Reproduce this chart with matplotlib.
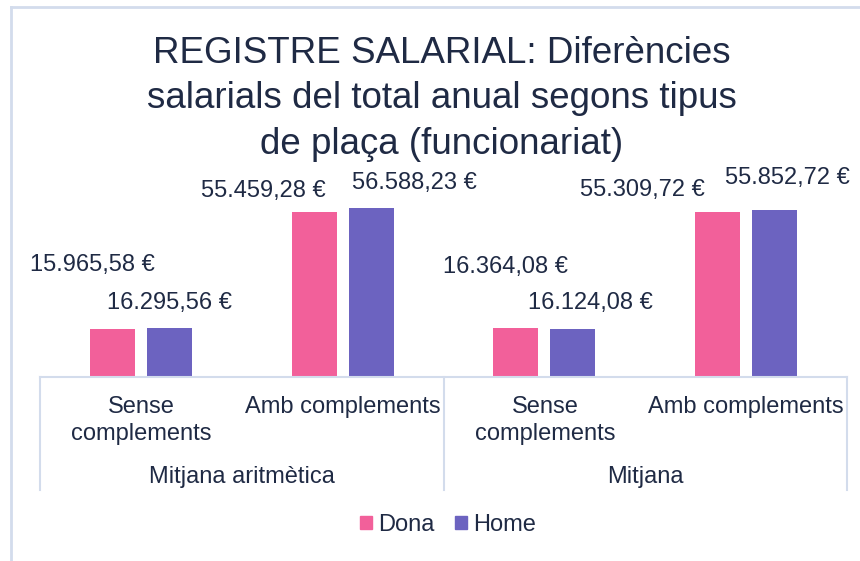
import matplotlib.pyplot as plt
from matplotlib.lines import Line2D
from matplotlib.patches import Patch

plt.rcParams['font.family'] = ['Liberation Sans', 'DejaVu Sans']

groups = ["Mitjana aritmètica", "Mitjana"]
types = ["Sense\ncomplements", "Amb complements"]
dona = [15965.58, 55459.28, 16364.08, 55309.72]
home = [16295.56, 56588.23, 16124.08, 55852.72]

pink = "#F2609A"
purple = "#6C63C0"
text_col = "#1F2A44"
line_col = "#D3DCEC"


def fmt(v):
    s = f"{v:,.2f}".replace(",", "X").replace(".", ",").replace("X", ".")
    return s + " €"


# label offsets (pixels) as placed in the original
dona_off = [(-20, 64), (-51, 21), (-10, 61), (-75, 22)]
home_off = [(0, 25), (43, 25), (18, 26), (13, 32)]

fig = plt.figure(figsize=(8.6, 5.61), dpi=100)
W, H = 860, 561
ax = fig.add_axes([40 / W, 184 / H, 807 / W, 179 / H])

x = range(len(dona))
bw = 45 / 201.75
gap = 12 / 201.75
xd = [i - (bw + gap) / 2 for i in x]
xh = [i + (bw + gap) / 2 for i in x]
ax.bar(xd, dona, width=bw, color=pink)
ax.bar(xh, home, width=bw, color=purple)

for xi, v, off in zip(xd, dona, dona_off):
    ax.annotate(fmt(v), (xi, v), xytext=off, textcoords="offset pixels",
                ha="center", va="center", fontsize=17, color=text_col,
                annotation_clip=False)
for xi, v, off in zip(xh, home, home_off):
    ax.annotate(fmt(v), (xi, v), xytext=off, textcoords="offset pixels",
                ha="center", va="center", fontsize=17, color=text_col,
                annotation_clip=False)

ax.set_xlim(-0.5, len(dona) - 0.5)
ax.set_ylim(0, 60000)
ax.axis("off")

# category axis line
fig.add_artist(Line2D([40 / W, 847 / W], [184 / H, 184 / H], color=line_col, lw=1.5))
for xp in [40, 444, 847]:
    fig.add_artist(Line2D([xp / W, xp / W], [184 / H, 71 / H], color=line_col, lw=1.5))

cat_centers = [141, 343, 545, 746]
for i, cx in enumerate(cat_centers):
    fig.text(cx / W, 1 - 396 / H, types[i % 2], ha="center", va="top",
             fontsize=17, color=text_col, linespacing=1.3)
for g, cx in zip(groups, [242, 645]):
    fig.text(cx / W, 1 - 477 / H, g, ha="center", va="center",
             fontsize=17, color=text_col)

fig.text(442 / W, 1 - 99 / H,
         "REGISTRE SALARIAL: Diferències\nsalarials del total anual segons tipus\nde plaça (funcionariat)",
         ha="center", va="center", fontsize=26.5, color=text_col, linespacing=1.38)

handles = [Patch(color=pink, label="Dona"), Patch(color=purple, label="Home")]
fig.legend(handles=handles, loc="center", bbox_to_anchor=(448 / W, 1 - 525 / H),
           ncol=2, frameon=False, fontsize=17, handlelength=0.5, handleheight=0.5,
           handletextpad=0.25, columnspacing=0.9, labelcolor=text_col)

# chart frame
fig.add_artist(Line2D([11 / W, 11 / W], [0, 1 - 7 / H], color=line_col, lw=2))
fig.add_artist(Line2D([11 / W, 1], [1 - 7 / H, 1 - 7 / H], color=line_col, lw=2))

fig.savefig("out.png", dpi=100)
